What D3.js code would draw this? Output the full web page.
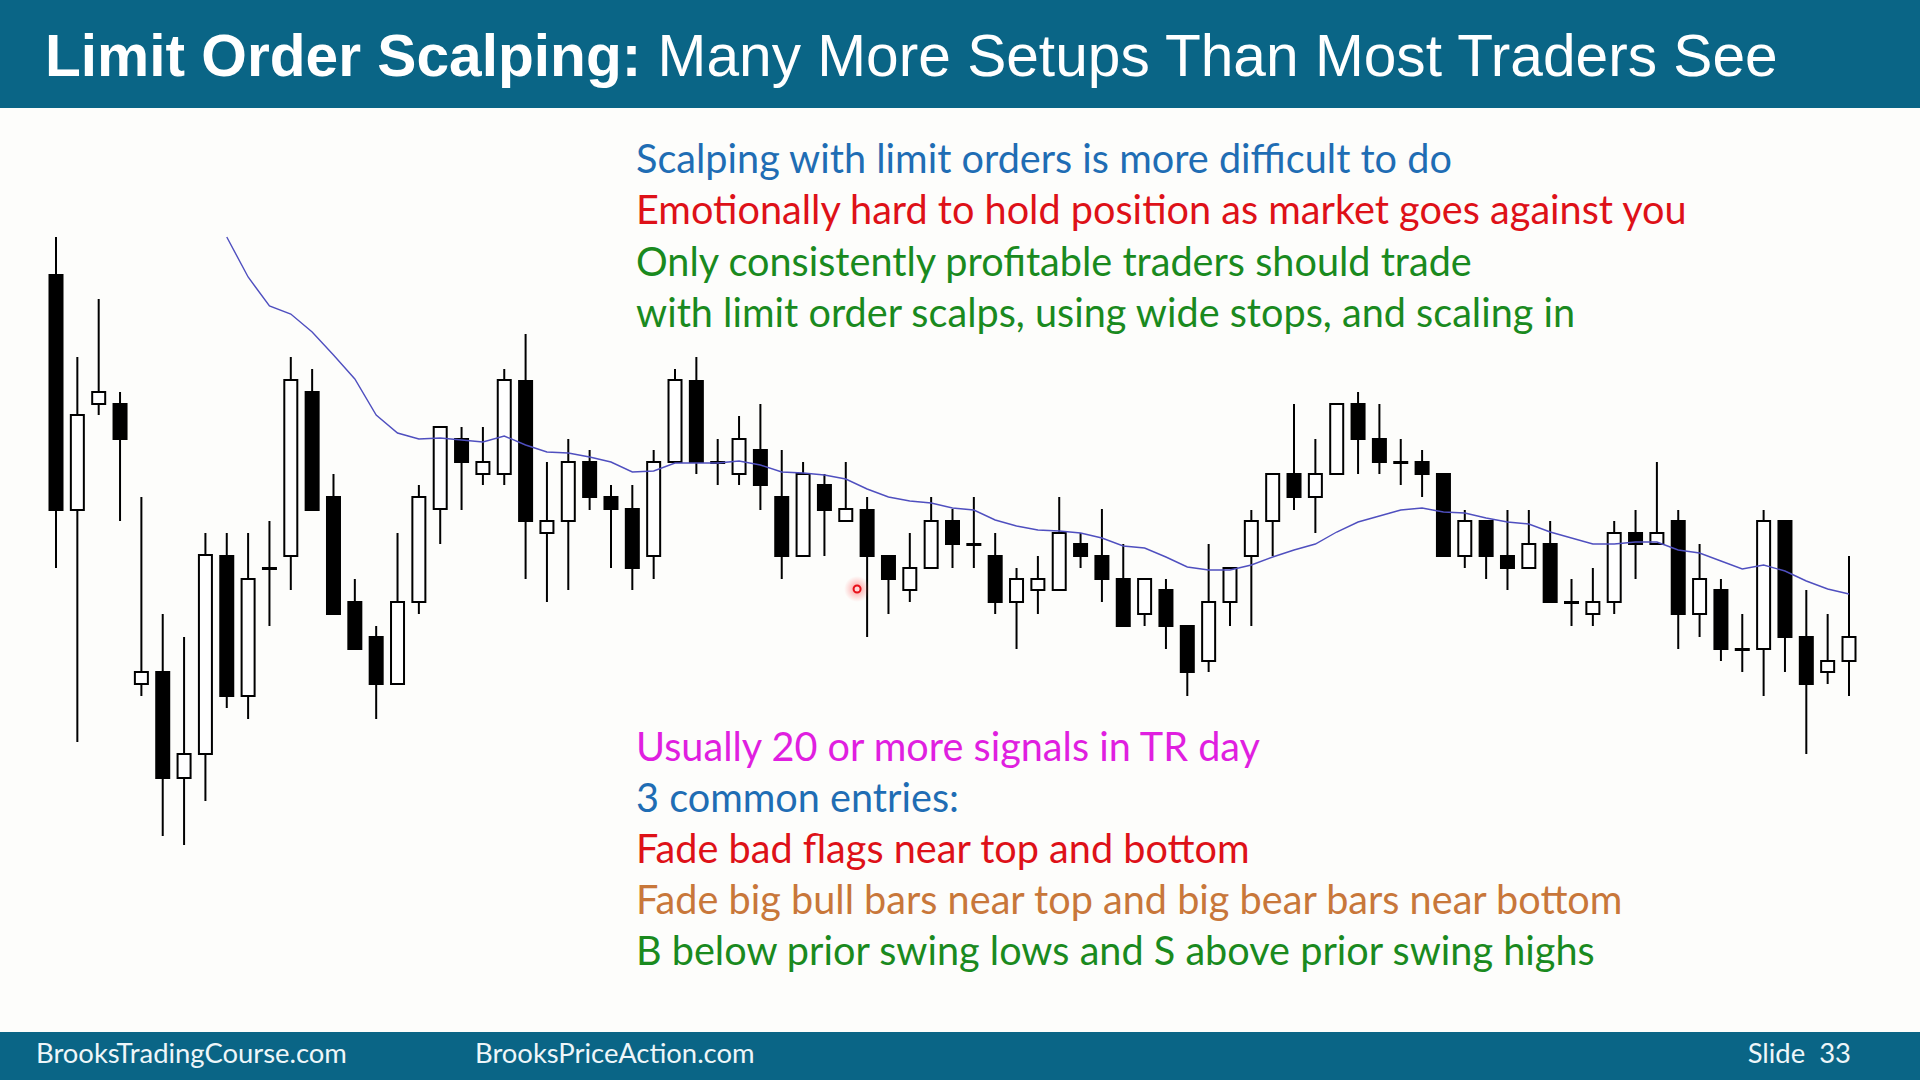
<!DOCTYPE html>
<html>
<head>
<meta charset="utf-8">
<script src="https://cdn.jsdelivr.net/npm/d3@7"></script>
<style>
  html, body { margin: 0; padding: 0; background: #fdfdfb; }
  svg { display: block; }
</style>
</head>
<body>
<svg id="chart" width="1920" height="1080"></svg>
<script>
// ---------------- DATA ----------------
const titleBold = "Limit Order Scalping:";
const titleRegular = " Many More Setups Than Most Traders See";

const topLines = [
  "Scalping with limit orders is more difficult to do",
  "Emotionally hard to hold position as market goes against you",
  "Only consistently profitable traders should trade",
  "with limit order scalps, using wide stops, and scaling in"
];
const topColors = ["#1f6db4", "#de1118", "#1a8a1e", "#1a8a1e"];

const bottomLines = [
  "Usually 20 or more signals in TR day",
  "3 common entries:",
  "Fade bad flags near top and bottom",
  "Fade big bull bars near top and big bear bars near bottom",
  "B below prior swing lows and S above prior swing highs"
];
const bottomColors = ["#e01fe0", "#1f6db4", "#de1118", "#c8773a", "#1a8a1e"];

const footerLeft = "BrooksTradingCourse.com";
const footerMid = "BrooksPriceAction.com";
const footerRight = "Slide  33";

const bars = d3.range(1, 86);

const opens = [4312.5,4195,4248,4248,4108,4114,4061,4073,4172,4102,
  4166,4172,4254,4201.5,4149,4131.5,4108,4149,4195.5,4230.5,
  4213,4213,4259.5,4183.5,4189.5,4219,4201.5,4195.5,4172,4219,
  4259.5,4219,4213,4225,4201.5,4172,4207.5,4189.5,4195,4172,
  4155,4166,4189.5,4178,4172,4149,4155,4155,4178,4172,
  4160.5,4143,4155,4137,4119.5,4149,4172,4189.5,4213,4201.5,
  4213,4248,4230.5,4219,4219,4213,4172,4189.5,4172,4166,
  4178,4149,4143,4149,4183.5,4178,4189.5,4143,4155,4125.5,
  4125.5,4189.5,4131.5,4114,4119.5];

const highs = [4331.5,4271.5,4300.5,4254,4201.5,4143,4131.5,4183.5,4183.5,4183.5,
  4189.5,4271.5,4265.5,4213,4160.5,4137,4183.5,4207.5,4236.5,4236.5,
  4236.5,4265.5,4283,4219,4230.5,4225,4207.5,4207.5,4225,4265.5,
  4271.5,4230.5,4242,4248,4225,4219,4213,4219,4201.5,4172,
  4183.5,4201.5,4195.5,4201.5,4183.5,4166,4172,4201.5,4183.5,4195.5,
  4178,4160.5,4160.5,4137,4178,4166,4195,4213,4248,4230.5,
  4248,4254,4248,4230.5,4225,4213,4195,4189.5,4195,4195,
  4189.5,4160.5,4166,4189.5,4195,4219,4195,4178,4160.5,4143,
  4195,4189.5,4155,4143,4172];

const lows = [4166,4079,4242.5,4189.5,4102,4032,4027.5,4049.5,4096,4090.5,
  4137,4155,4195,4143,4125.5,4090.5,4108,4143,4178,4195,
  4207.5,4207.5,4160.5,4149,4155,4195,4166,4155,4160.5,4219,
  4213,4207.5,4207.5,4195,4160.5,4172,4172,4189.5,4131.5,4143,
  4149,4166,4166,4166,4143,4125.5,4143,4155,4166,4149,
  4137,4137,4125.5,4102,4114,4137,4137,4172,4195,4183.5,
  4213,4213,4213,4207.5,4201.5,4172,4166,4160.5,4155,4166,
  4149,4137,4137,4143,4160.5,4178,4125.5,4131.5,4119.5,4114,
  4102,4114,4073,4108,4102];

const closes = [4195,4242.5,4254,4230.5,4114,4061,4073,4172.5,4102,4160.5,
  4166,4260,4195,4143,4125.5,4108,4149,4201.5,4236.5,4219,
  4219,4260,4189.5,4189.5,4219,4201.5,4195.5,4166,4219,4260,
  4219,4219,4230.5,4207.5,4172,4213,4195,4195.5,4172,4160.5,
  4166,4189.5,4178,4178,4149,4160.5,4160.5,4183.5,4172,4160.5,
  4137,4160.5,4137,4114,4149,4166,4189.5,4213,4201.5,4213,
  4248,4230.5,4219,4219,4213,4172,4189.5,4172,4166,4178,
  4149,4149,4149,4183.5,4178,4183.5,4143,4160.5,4125.5,4125.5,
  4189.5,4131.5,4108,4119.5,4131.5];

const ema20 = [null,null,null,null,null,null,null,null,
  4331.5,4311.5,4297,4293,4284,4272.5,4260.5,4242.5,4233.5,4230.5,
  4231,4230,4229,4232,4227.5,4224,4223.5,4221.5,4219,4214,
  4214.5,4218.5,4218.5,4218.5,4219.5,4217.5,4214,4213.5,4212.5,4210.5,
  4205.5,4201.5,4199.5,4198.5,4196,4195,4190,4187,4185,4184.5,
  4183.5,4181,4177,4176,4171.5,4166.5,4165,4165,4167.5,4171.5,
  4175,4178,4184,4189,4192,4195,4196,4194,4193.5,4191,
  4189,4188,4184,4181,4178,4178,4179,4179,4175,4173.5,
  4169.5,4165.5,4167.5,4164.5,4159.5,4155.5,4153];

const pointerBar = [38.53];
const pointerPrice = [4155.5];

// ---------------- DRAW ----------------
const W = 1920, H = 1080;
const svg = d3.select("#chart");
const BLUE_BAR = "#0a6586";

svg.append("rect").attr("width", W).attr("height", H).attr("fill", "#fdfdfb");

// header
svg.append("rect").attr("x", 0).attr("y", 0).attr("width", W).attr("height", 108).attr("fill", BLUE_BAR);
const title = svg.append("text")
  .attr("x", 45).attr("y", 76)
  .attr("fill", "#ffffff")
  .style("font-family", "'Liberation Sans', Arial, sans-serif")
  .style("font-size", "58px")
  .style("white-space", "pre");
title.append("tspan").attr("font-weight", "bold").text(titleBold);
title.append("tspan").attr("font-weight", "normal").text(titleRegular);
{
  const w = title.node().getComputedTextLength();
  const fs = 58 * 1733 / w;
  title.style("font-size", fs + "px");
}

// footer
svg.append("rect").attr("x", 0).attr("y", 1032).attr("width", W).attr("height", 48).attr("fill", BLUE_BAR);
const footFont = "Lato, 'Open Sans', sans-serif";
const fL = svg.append("text").attr("x", 36).attr("y", 1063).attr("fill", "#eef6f9")
  .style("font-family", footFont).style("font-size", "26px").text(footerLeft);
const fM = svg.append("text").attr("x", 475).attr("y", 1063).attr("fill", "#eef6f9")
  .style("font-family", footFont).style("font-size", "26px").text(footerMid);
const fR = svg.append("text").attr("x", 1851).attr("y", 1063).attr("fill", "#eef6f9")
  .attr("text-anchor", "end").style("white-space", "pre")
  .style("font-family", footFont).style("font-size", "26px").text(footerRight);
{
  const w = fL.node().getComputedTextLength();
  const fs = 26 * 311 / w;
  [fL, fM, fR].forEach(t => t.style("font-size", fs + "px"));
}

// scales
const x = d3.scaleLinear().domain([1, 85]).range([56, 1849]);
const y = d3.scaleLinear().domain([4000, 4400]).range([900, 100]);

const data = bars.map((b, i) => ({
  bar: b, o: opens[i], h: highs[i], l: lows[i], c: closes[i], e: ema20[i]
}));

const g = svg.append("g");
const bodyW = 13;

// wicks
g.selectAll("line.wick").data(data).join("line")
  .attr("class", "wick")
  .attr("x1", d => x(d.bar)).attr("x2", d => x(d.bar))
  .attr("y1", d => y(d.h)).attr("y2", d => y(d.l))
  .attr("stroke", "#000").attr("stroke-width", 2);

// bodies
g.selectAll("rect.body").data(data).join("rect")
  .attr("class", "body")
  .attr("x", d => x(d.bar) - bodyW / 2)
  .attr("width", bodyW)
  .attr("y", d => y(Math.max(d.o, d.c)))
  .attr("height", d => Math.max(1, Math.abs(y(d.o) - y(d.c))))
  .attr("fill", d => d.c > d.o ? "#ffffff" : "#000000")
  .attr("stroke", "#000").attr("stroke-width", 2);

// EMA line
const emaLine = d3.line()
  .defined(d => d.e !== null)
  .x(d => x(d.bar)).y(d => y(d.e))
  .curve(d3.curveLinear);
g.append("path").datum(data)
  .attr("d", emaLine)
  .attr("fill", "none")
  .attr("stroke", "#4f4fbf")
  .attr("stroke-width", 1.4);

// laser pointer dot
const defs = svg.append("defs");
const rg = defs.append("radialGradient").attr("id", "glow");
rg.append("stop").attr("offset", "0%").attr("stop-color", "#ff4040").attr("stop-opacity", 0.55);
rg.append("stop").attr("offset", "100%").attr("stop-color", "#ff6060").attr("stop-opacity", 0);
const pd = pointerBar.map((b, i) => ({ b, p: pointerPrice[i] }));
g.selectAll("circle.glow").data(pd).join("circle")
  .attr("cx", d => x(d.b)).attr("cy", d => y(d.p)).attr("r", 13).attr("fill", "url(#glow)");
g.selectAll("circle.dot").data(pd).join("circle")
  .attr("cx", d => x(d.b)).attr("cy", d => y(d.p)).attr("r", 3.5)
  .attr("fill", "#ffd6d6").attr("stroke", "#e8101a").attr("stroke-width", 2);

// text blocks
const bodyFont = "Lato, 'Open Sans', sans-serif";
const topY = [173, 224, 276, 327];
const botY = [761, 812, 863, 914, 965];
const targets = { top: [816, 1051, 835, 940], bot: [619, 325, 617, 994, 953] };

const tTop = svg.selectAll("text.top").data(topLines).join("text")
  .attr("class", "top")
  .attr("x", 636).attr("y", (d, i) => topY[i])
  .attr("fill", (d, i) => topColors[i])
  .style("font-family", bodyFont).style("font-size", "40px")
  .text(d => d);
const tBot = svg.selectAll("text.bot").data(bottomLines).join("text")
  .attr("class", "bot")
  .attr("x", 636).attr("y", (d, i) => botY[i])
  .attr("fill", (d, i) => bottomColors[i])
  .style("font-family", bodyFont).style("font-size", "40px")
  .text(d => d);
{
  let sm = 0, st = 0;
  tTop.each(function(d, i) { sm += this.getComputedTextLength(); st += targets.top[i]; });
  tBot.each(function(d, i) { sm += this.getComputedTextLength(); st += targets.bot[i]; });
  const fs = 40 * st / sm;
  tTop.style("font-size", fs + "px");
  tBot.style("font-size", fs + "px");
}
</script>
</body>
</html>
